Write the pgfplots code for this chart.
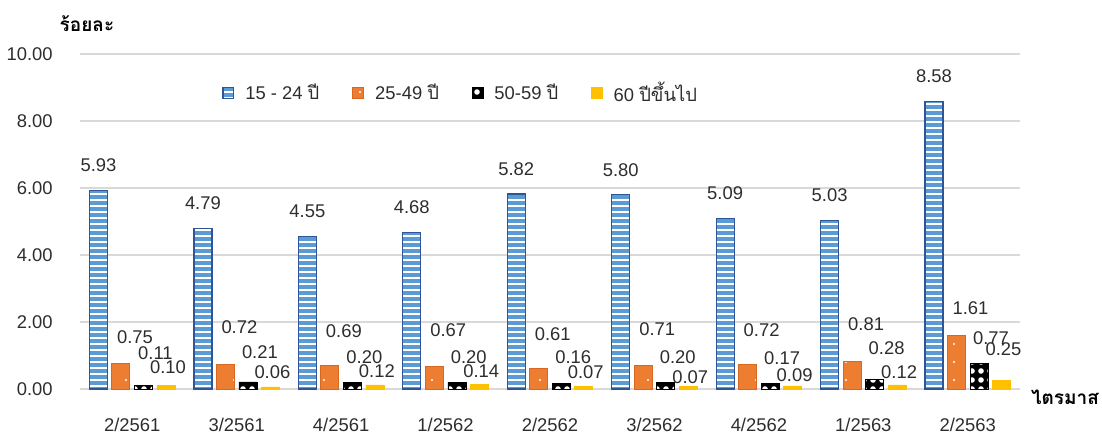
\documentclass[border=0pt]{standalone}
\usepackage{fontspec}
\setmainfont{Liberation Sans}
\newfontfamily\thaifont[Script=Thai]{Loma}
\usepackage{pgfplots}
\usepackage{pgfplotstable}
\pgfplotsset{compat=1.18}
\usetikzlibrary{patterns.meta}

\definecolor{barblue}{RGB}{91,155,213}
\definecolor{blueedge}{RGB}{47,85,151}
\definecolor{barorange}{RGB}{237,125,49}
\definecolor{orangeedge}{RGB}{214,104,34}
\definecolor{baryellow}{RGB}{255,192,0}
\definecolor{gridgray}{RGB}{217,217,217}
\definecolor{txt}{RGB}{45,45,45}

% x: category index, a-d: series values, ob/oc/od: label offsets (pt)
\pgfplotstableread{
x  a    b    c    d    ob   oc   od
0  5.93 0.75 0.11 0.10 13.5 16   9
1  4.79 0.72 0.21 0.06 19   15   7.5
2  4.55 0.69 0.20 0.12 17.5 12.5 7
3  4.68 0.67 0.20 0.14 18   12.5 6.5
4  5.82 0.61 0.16 0.07 17   13   7
5  5.80 0.71 0.20 0.07 18   12.5 4.5
6  5.09 0.72 0.17 0.09 17.5 12.5 5.5
7  5.03 0.81 0.28 0.12 19   15.5 6.5
8  8.58 1.61 0.77 0.25 13.5 12.5 15.5
}\datatable

\pgfplotsset{
  smallbox/.style={legend image code/.code={\draw[##1] (0pt,-2.7pt) rectangle (5.4pt,2.7pt);}},
}

\begin{document}
\begin{tikzpicture}[font=\fontsize{9.2}{11}\selectfont]
\path[use as bounding box] (-40pt,-22.5pt) rectangle (511pt,194.5pt);
\begin{axis}[
  at={(0,0)}, anchor=south west,
  scale only axis, width=470pt, height=167.5pt,
  ybar=2.25pt, bar width=9pt,
  xmin=-0.5, xmax=8.5, ymin=0, ymax=10,
  ytick={0,2,4,6,8,10},
  xtick={0,...,8},
  xticklabels={2/2561,3/2561,4/2561,1/2562,2/2562,3/2562,4/2562,1/2563,2/2563},
  major tick length=0pt,
  axis line style={draw=none},
  ymajorgrids, grid style={gridgray, line width=0.6pt},
  clip=false,
  /pgf/number format/fixed,
  /pgf/number format/fixed zerofill,
  /pgf/number format/precision=2,
  /pgf/number format/assume math mode=true,
  tick label style={font=\fontsize{9.2}{11}\selectfont, text=txt},
  yticklabel style={anchor=east, inner sep=0pt, xshift=-13.5pt},
  xticklabel style={anchor=center, inner sep=0pt, yshift=-18pt},
  legend style={at={(0.151,0.884)}, anchor=west, draw=none, fill=none,
    font=\fontsize{9.2}{11}\selectfont, text=txt, inner sep=0pt,
    /tikz/every odd column/.append style={column sep=3.5pt},
    /tikz/every even column/.append style={column sep=14.5pt}},
  legend columns=4,
  nodes near coords style={font=\fontsize{9.2}{11}\selectfont, text=txt},
]
\addplot[fill=barblue, draw=blueedge, line width=0.6pt,
  postaction={pattern={Lines[angle=0,distance=3pt,line width=1.1pt]}, pattern color=white},
  smallbox,
  nodes near coords,
  every node near coord/.append style={anchor=center, yshift=12.5pt}]
  table[x=x, y=a] {\datatable};
\addlegendentry{15 - 24 {\thaifont ปี}}

\addplot[fill=barorange, draw=orangeedge, line width=0.5pt,
  postaction={pattern={Dots[distance=9pt,radius=0.6pt]}, pattern color=white},
  smallbox,
  nodes near coords,
  visualization depends on={\thisrow{ob} \as \offb},
  every node near coord/.append style={anchor=center, xshift=7pt, yshift=\offb pt}]
  table[x=x, y=b] {\datatable};
\addlegendentry{25-49 {\thaifont ปี}}

\addplot[fill=black, draw=black, line width=0.3pt,
  postaction={pattern={Dots[distance=4.5pt,radius=1.4pt]}, pattern color=white},
  smallbox,
  nodes near coords,
  visualization depends on={\thisrow{oc} \as \offc},
  every node near coord/.append style={anchor=center, xshift=6pt, yshift=\offc pt}]
  table[x=x, y=c] {\datatable};
\addlegendentry{50-59 {\thaifont ปี}}

\addplot[fill=baryellow, draw=baryellow, line width=0.3pt,
  smallbox,
  nodes near coords,
  visualization depends on={\thisrow{od} \as \offd},
  every node near coord/.append style={anchor=center, xshift=1pt, yshift=\offd pt}]
  table[x=x, y=d] {\datatable};
\addlegendentry{60 {\thaifont ปีขึ้นไป}}
\end{axis}
\node[font=\thaifont\bfseries\fontsize{9.5}{11}\selectfont] at (3.5pt,182.5pt) {ร้อยละ};
\node[font=\thaifont\bfseries\fontsize{9.5}{11}\selectfont] at (492.5pt,-4pt) {ไตรมาส};
\end{tikzpicture}
\end{document}
